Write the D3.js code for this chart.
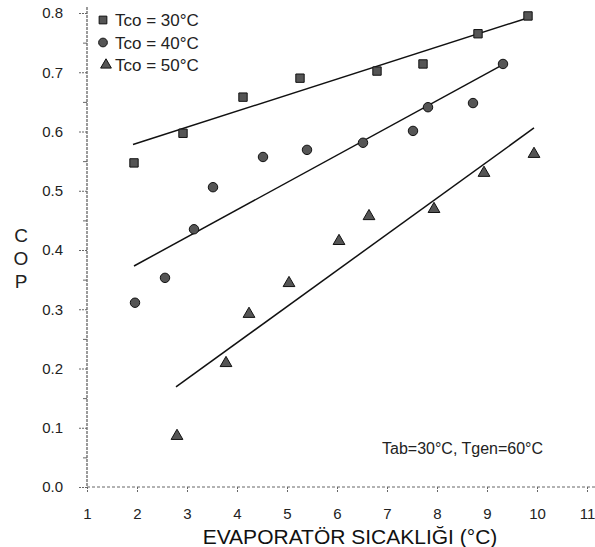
<!DOCTYPE html>
<html>
<head>
<meta charset="utf-8">
<script src="https://cdn.jsdelivr.net/npm/d3@7"></script>
<style>
  body { margin: 0; background: #fff; }
  svg { display: block; font-family: "Liberation Sans", Arial, sans-serif; }
</style>
</head>
<body>
<div id="container"></div>
<script>
"use strict";

// Evaporator temperature (°C) and COP.
const evap30 = [1.94, 2.92, 4.12, 5.26, 6.80, 7.72, 8.82, 9.82];
const cop30 = [0.547, 0.597, 0.658, 0.690, 0.702, 0.714, 0.765, 0.795];

const evap40 = [1.96, 2.56, 3.14, 3.52, 4.52, 5.40, 6.52, 7.52, 7.82, 8.72, 9.32];
const cop40 = [0.311, 0.353, 0.435, 0.506, 0.557, 0.569, 0.581, 0.601, 0.641, 0.648, 0.714];

const evap50 = [2.80, 3.78, 4.24, 5.04, 6.04, 6.64, 7.94, 8.94, 9.94];
const cop50 = [0.086, 0.209, 0.292, 0.344, 0.415, 0.457, 0.469, 0.530, 0.562];

// Straight fit lines as drawn in the figure (end points).
const fitEvap30 = [1.92, 9.75];
const fitCop30 = [0.578, 0.790];
const fitEvap40 = [1.94, 9.30];
const fitCop40 = [0.373, 0.712];
const fitEvap50 = [2.78, 9.94];
const fitCop50 = [0.169, 0.606];

const seriesNames = ["Tco = 30°C", "Tco = 40°C", "Tco = 50°C"];
const xTicks = [1, 2, 3, 4, 5, 6, 7, 8, 9, 10, 11];
const yTicks = [0.0, 0.1, 0.2, 0.3, 0.4, 0.5, 0.6, 0.7, 0.8];

const width = 595;
const height = 547;
const axisColor = "#666";

const x = d3.scaleLinear().domain([1, 11]).range([87, 587]);
const y = d3.scaleLinear().domain([0, 0.8]).range([487, 13]);

const svg = d3.create("svg").attr("width", width).attr("height", height);

// Y axis: major ticks every 0.1, minor in between.
const yAxis = svg.append("g")
  .attr("transform", `translate(${x(1)}, 0)`)
  .style("font-size", "15px")
  .call(d3.axisLeft(y).tickValues(yTicks).tickFormat(d3.format(".1f")).tickSize(8).tickPadding(16));
yAxis.select(".domain").remove();
yAxis.selectAll("line").attr("stroke", axisColor).attr("stroke-dasharray", "2,1");
yAxis.selectAll("text").attr("fill", "#222");
svg.append("g")
  .attr("transform", `translate(${x(1)}, 0)`)
  .call(d3.axisLeft(y).tickValues(d3.range(0.05, 0.8, 0.1)).tickFormat("").tickSize(4))
  .call((g) => g.select(".domain").remove())
  .selectAll("line").attr("stroke", axisColor);
svg.append("line")
  .attr("x1", x(1)).attr("x2", x(1))
  .attr("y1", y(0.81)).attr("y2", y(0))
  .attr("stroke", axisColor).attr("stroke-width", 1.3).attr("stroke-dasharray", "3,1");

// X axis.
const xAxis = svg.append("g")
  .attr("transform", `translate(0, ${y(0)})`)
  .style("font-size", "15px")
  .call(d3.axisBottom(x).tickValues(xTicks).tickFormat(d3.format("d")).tickSize(6).tickPadding(15));
xAxis.select(".domain").remove();
xAxis.selectAll("line").attr("stroke", axisColor).attr("stroke-dasharray", "2,1");
xAxis.selectAll("text").attr("fill", "#222");
svg.append("line")
  .attr("x1", x(1)).attr("x2", width)
  .attr("y1", y(0)).attr("y2", y(0))
  .attr("stroke", axisColor).attr("stroke-width", 1).attr("stroke-dasharray", "3,2");

// Fit lines.
const fits = [
  [fitEvap30, fitCop30],
  [fitEvap40, fitCop40],
  [fitEvap50, fitCop50]
];
fits.forEach(([ex, ey]) => {
  svg.append("line")
    .attr("x1", x(ex[0])).attr("y1", y(ey[0]))
    .attr("x2", x(ex[1])).attr("y2", y(ey[1]))
    .attr("stroke", "#111").attr("stroke-width", 1.5);
});

// Markers.
const symbols = [d3.symbolSquare, d3.symbolCircle, d3.symbolTriangle];
const symbolSizes = [70, 70, 60];
const series = [
  d3.zip(evap30, cop30),
  d3.zip(evap40, cop40),
  d3.zip(evap50, cop50)
];
series.forEach((pts, i) => {
  svg.append("g")
    .selectAll("path")
    .data(pts)
    .join("path")
    .attr("d", d3.symbol(symbols[i], symbolSizes[i]))
    .attr("transform", (d) => `translate(${x(d[0])}, ${y(d[1])})`)
    .attr("fill", "#555")
    .attr("stroke", "#111")
    .attr("stroke-width", 1);
});

// Legend.
const legend = svg.append("g").style("font-size", "17px");
seriesNames.forEach((name, i) => {
  const cy = 20 + i * 22.5;
  legend.append("path")
    .attr("d", d3.symbol(symbols[i], symbolSizes[i] - 10))
    .attr("transform", `translate(${103 + (i === 2 ? 3 : 0)}, ${cy})`)
    .attr("fill", "#555").attr("stroke", "#111");
  legend.append("text")
    .attr("x", 115).attr("y", cy + 6)
    .attr("fill", "#222")
    .text(name);
});

// Annotation.
svg.append("text")
  .attr("x", 382).attr("y", 454)
  .style("font-size", "16px")
  .attr("fill", "#222")
  .text("Tab=30°C, Tgen=60°C");

// Axis titles.
svg.append("text")
  .attr("x", 350).attr("y", 544)
  .attr("text-anchor", "middle")
  .style("font-size", "21px")
  .attr("fill", "#111")
  .text("EVAPORATÖR SICAKLIĞI (°C)");
["C", "O", "P"].forEach((ch, i) => {
  svg.append("text")
    .attr("x", 21).attr("y", 242 + i * 23)
    .attr("text-anchor", "middle")
    .style("font-size", "19px")
    .attr("fill", "#222")
    .text(ch);
});

d3.select("#container").append(() => svg.node());
</script>
</body>
</html>
